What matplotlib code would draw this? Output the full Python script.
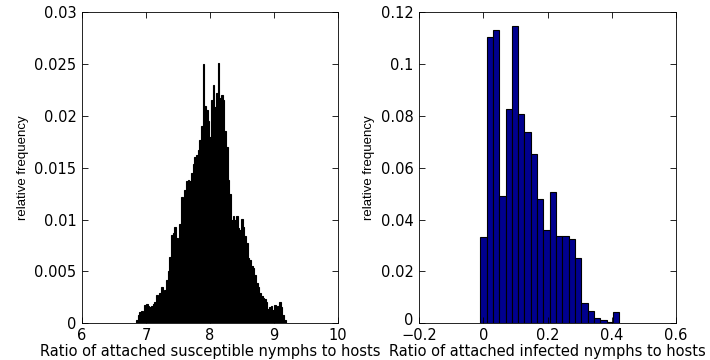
import numpy as np
import matplotlib
matplotlib.use("Agg")
import matplotlib.pyplot as plt
import matplotlib.transforms as mtransforms

plt.rcParams['font.family'] = ['DejaVu Sans']

# left histogram: susceptible nymphs per host (relative frequency per bin)
sus_start = 6.857
sus_step = 0.026
sus_freq = [0.0003, 0.0008, 0.0011, 0.0012, 0.0010, 0.0018, 0.0019, 0.0017, 0.0016, 0.0017,
            0.0019, 0.0021, 0.0027, 0.0025, 0.0029, 0.0035, 0.0025, 0.0032, 0.0042, 0.0050,
            0.0064, 0.0085, 0.0087, 0.0093, 0.0082, 0.0071, 0.0096, 0.0122, 0.0120, 0.0129,
            0.0137, 0.0138, 0.0137, 0.0145, 0.0154, 0.0160, 0.0162, 0.0167, 0.0177, 0.0190,
            0.0250, 0.0210, 0.0206, 0.0195, 0.0180, 0.0215, 0.0230, 0.0209, 0.0222, 0.0251,
            0.0217, 0.0220, 0.0215, 0.0185, 0.0170, 0.0138, 0.0125, 0.0100, 0.0103, 0.0100,
            0.0103, 0.0092, 0.0090, 0.0101, 0.0093, 0.0084, 0.0077, 0.0063, 0.0061, 0.0055,
            0.0053, 0.0047, 0.0039, 0.0035, 0.0029, 0.0026, 0.0024, 0.0023, 0.0021, 0.0014,
            0.0016, 0.0017, 0.0013, 0.0018, 0.0014, 0.0017, 0.0021, 0.0016, 0.0008, 0.0003]

# right histogram: infected nymphs per host
inf_start = 0.0
inf_step = 0.0197
inf_freq = [0.0333, 0.1104, 0.1132, 0.0491, 0.0826, 0.1147, 0.0809, 0.0737, 0.0653, 0.0478,
            0.0361, 0.0505, 0.0336, 0.0336, 0.0324, 0.0252, 0.0078, 0.0048, 0.0021, 0.0013,
            0.0006, 0.0045]

sus_x = sus_start + sus_step * np.arange(len(sus_freq))
inf_x = inf_start + inf_step * np.arange(len(inf_freq))

fig = plt.figure(figsize=(7.1, 3.6), dpi=100)
ax1 = fig.add_axes([0.1155, 0.102, 0.3606, 0.864])
ax2 = fig.add_axes([0.5906, 0.102, 0.3611, 0.864])

navy = '#00008f'
ax1.bar(sus_x, sus_freq, width=sus_step, color='black', edgecolor='black', linewidth=0.8)
ax2.bar(inf_x, inf_freq, width=inf_step, color=navy, edgecolor='black', linewidth=0.8)

ax1.set_xlim(6, 10)
ax1.set_ylim(0, 0.03)
ax1.set_xticks([6, 7, 8, 9, 10])
ax1.set_yticks([0, 0.005, 0.01, 0.015, 0.02, 0.025, 0.03])
ax1.set_yticklabels(['0', '0.005', '0.01', '0.015', '0.02', '0.025', '0.03'])

ax2.set_xlim(-0.2, 0.6)
ax2.set_ylim(0, 0.12)
ax2.set_xticks([-0.2, 0, 0.2, 0.4, 0.6])
ax2.set_xticklabels(['\u22120.2', '0', '0.2', '0.4', '0.6'])
ax2.set_yticks([0, 0.02, 0.04, 0.06, 0.08, 0.1, 0.12])
ax2.set_yticklabels(['0', '0.02', '0.04', '0.06', '0.08', '0.1', '0.12'])

for ax, xl in [(ax1, 'Ratio of attached susceptible nymphs to hosts'),
               (ax2, 'Ratio of attached infected nymphs to hosts')]:
    ax.tick_params(direction='in', top=True, right=True, length=4, width=0.6,
                   labelsize=10.5)
    ax.tick_params(axis='x', pad=3.5)
    ax.tick_params(axis='y', pad=4)
    for s in ax.spines.values():
        s.set_linewidth(0.6)
    ax.set_xlabel(xl, fontsize=10.5, labelpad=0.5)
    ax.set_ylabel('relative frequency', fontsize=9.5, labelpad=4,
                  family=['Liberation Sans Narrow', 'Liberation Sans'])

# nudge the right panel's "0" label up so it clears the "-0.2" below it
zero_lbl = ax2.get_yticklabels()[0]
zero_lbl.set_transform(zero_lbl.get_transform() +
                       mtransforms.ScaledTranslation(0, 3 / 72, fig.dpi_scale_trans))

fig.savefig('out.png', dpi=100)
